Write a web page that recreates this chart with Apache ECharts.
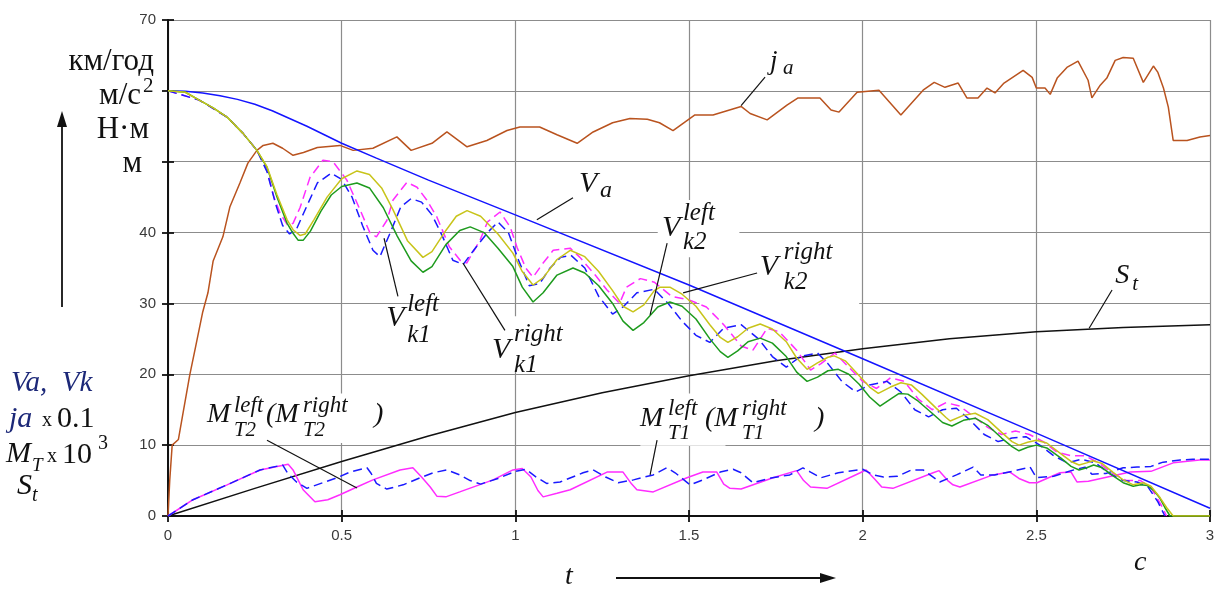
<!DOCTYPE html>
<html>
<head>
<meta charset="utf-8">
<script src="https://cdn.jsdelivr.net/npm/echarts@6.0.0/dist/echarts.min.js"></script>
<style>
html,body{margin:0;padding:0;background:#fff;}
#chart{width:1227px;height:590px;}
</style>
</head>
<body>
<div id="chart"></div>
<script>
// Axis ranges and tick labels
const xMin = 0, xMax = 3, xStep = 0.5;
const yMin = 0, yMax = 70, yStep = 10;
const yHiddenLabels = [50, 60];

// Vehicle speed V_a, km/h
const vaPts = [[0,60],[0.05,59.95],[0.1,59.7],[0.15,59.3],[0.2,58.8],[0.25,58.1],[0.3,57.2],[0.35,56.1],[0.4,55.0],[0.45,53.8],[0.5,52.6],[0.6,50.5],[0.75,47.4],[1.0,42.5],[1.5,32.6],[2.0,22.2],[2.5,11.7],[3.0,1.1]];

// Wheel speed V_k2 left (green)
const vk2LeftPts = [[0,60],[0.05,59.8],[0.09,58.7],[0.13,57.6],[0.17,56.3],[0.216,54],[0.256,51.6],[0.285,49.2],[0.314,45],[0.343,41.3],[0.36,39.9],[0.375,38.9],[0.389,38.9],[0.41,40.2],[0.44,43],[0.47,45.3],[0.5,46.5],[0.544,47],[0.58,46.3],[0.62,43.5],[0.66,39.5],[0.7,36],[0.734,34.4],[0.76,35.2],[0.8,38.3],[0.84,40.3],[0.87,40.8],[0.91,40],[0.95,37.8],[0.993,35.2],[1.02,32.3],[1.051,30.2],[1.08,31.5],[1.12,34],[1.166,35],[1.2,34.3],[1.24,32.5],[1.28,30],[1.31,27.5],[1.339,26.2],[1.37,27.3],[1.41,29.5],[1.445,30.2],[1.48,29.6],[1.52,27.8],[1.56,25],[1.59,23.2],[1.612,22.4],[1.64,23.3],[1.67,24.6],[1.705,25.1],[1.74,24.4],[1.78,22.5],[1.81,20.3],[1.84,19],[1.87,19.6],[1.9,20.5],[1.93,20.7],[1.96,20],[1.99,18.6],[2.02,16.8],[2.05,15.5],[2.08,16.5],[2.105,17.3],[2.13,17.2],[2.16,16.2],[2.2,14.5],[2.23,13.2],[2.257,12.7],[2.29,13.5],[2.324,13.8],[2.36,12.8],[2.4,11],[2.43,9.8],[2.45,9.2],[2.475,9.7],[2.5,10],[2.53,9.6],[2.57,8.2],[2.6,7],[2.623,6.5],[2.645,6.8],[2.665,7.2],[2.69,6.8],[2.72,5.7],[2.75,4.7],[2.779,4.2],[2.8,4.4],[2.82,4.3],[2.84,3.5],[2.856,2.5],[2.87,1.2],[2.885,0],[3,0]];

// Wheel speed V_k2 right (yellow)
const vk2RightPts = [[0,60],[0.05,59.8],[0.09,58.7],[0.13,57.6],[0.17,56.3],[0.216,54],[0.256,51.6],[0.285,49.3],[0.314,45.3],[0.343,41.8],[0.36,40.4],[0.38,39.6],[0.395,39.8],[0.42,41.8],[0.458,45],[0.5,47.6],[0.544,48.7],[0.58,48.2],[0.615,46.3],[0.648,43.2],[0.69,38.8],[0.734,36.5],[0.76,37.3],[0.8,40.3],[0.83,42.3],[0.861,43.1],[0.9,42.3],[0.95,39.8],[0.993,37.1],[1.02,34.5],[1.051,32.6],[1.08,33.6],[1.12,36.2],[1.158,37.5],[1.2,36.6],[1.24,34.5],[1.28,31.8],[1.31,29.6],[1.339,28.8],[1.37,29.8],[1.4,31.8],[1.417,32.3],[1.445,32.3],[1.48,31.3],[1.52,29.6],[1.56,27],[1.59,25.2],[1.612,24.5],[1.64,25.3],[1.67,26.5],[1.705,27.1],[1.74,26.4],[1.78,24.6],[1.81,22.3],[1.84,20.7],[1.87,21.6],[1.9,22.4],[1.918,22.6],[1.95,21.9],[1.99,19.8],[2.02,18.2],[2.045,17.3],[2.08,18.2],[2.11,18.8],[2.14,18.5],[2.17,17.2],[2.21,15.3],[2.24,13.9],[2.252,13.4],[2.29,14.2],[2.324,14.5],[2.36,13.6],[2.4,11.8],[2.43,10.5],[2.45,10],[2.475,10.4],[2.5,10.7],[2.53,10.3],[2.57,8.8],[2.6,7.7],[2.623,7.2],[2.645,7.5],[2.663,7.8],[2.69,7.4],[2.72,6.2],[2.75,5.1],[2.779,4.4],[2.808,4.7],[2.83,4.2],[2.856,2.6],[2.875,1.2],[2.894,0],[3,0]];

// Wheel speed V_k1 left (blue, dashed)
const vk1LeftPts = [[0,60],[0.09,58.7],[0.17,56.3],[0.216,54],[0.256,51.6],[0.285,48.6],[0.31,44],[0.33,41],[0.35,39.8],[0.37,40.5],[0.39,42.7],[0.43,47],[0.47,48.4],[0.5,47.5],[0.53,45],[0.56,41],[0.59,37.5],[0.61,36.6],[0.64,40],[0.67,43.6],[0.7,44.8],[0.73,44.3],[0.76,42.5],[0.79,39.5],[0.82,36.1],[0.85,35.5],[0.88,37.5],[0.92,40],[0.95,41.5],[0.98,40],[1.01,36],[1.04,32.5],[1.07,32.8],[1.1,35],[1.13,36.5],[1.16,36.8],[1.2,35],[1.24,31],[1.28,28.5],[1.31,29.5],[1.35,31.5],[1.4,32],[1.44,30],[1.48,27.5],[1.52,25.5],[1.56,24.5],[1.6,26.5],[1.65,27],[1.7,25],[1.74,22.5],[1.78,21],[1.82,22.5],[1.87,23],[1.9,21.5],[1.94,19],[1.98,17.5],[2.02,18.5],[2.07,19],[2.11,17.5],[2.15,15],[2.19,14],[2.23,15],[2.27,15.2],[2.31,13.5],[2.35,11.5],[2.39,10.5],[2.43,11],[2.47,11.2],[2.51,10],[2.55,8.5],[2.59,7.5],[2.63,8],[2.67,7.5],[2.71,6],[2.75,5],[2.79,4.8],[2.82,4.2],[2.85,2],[2.87,0]];

// Wheel speed V_k1 right (magenta, dashed)
const vk1RightPts = [[0,60],[0.09,58.7],[0.17,56.3],[0.216,54],[0.256,51.6],[0.285,48.8],[0.305,45],[0.323,42.7],[0.345,41],[0.36,41.3],[0.38,43.5],[0.409,47.8],[0.446,50.2],[0.475,50],[0.515,47.4],[0.553,43.2],[0.582,39.9],[0.6,39.4],[0.63,41.7],[0.648,44.6],[0.688,47.1],[0.717,46.4],[0.745,44.6],[0.774,42.2],[0.81,38],[0.841,36.1],[0.86,35.7],[0.898,38.9],[0.92,41.5],[0.956,42.9],[0.985,40.8],[1.005,37.9],[1.03,35],[1.051,33.7],[1.08,35.7],[1.109,37.5],[1.158,37.8],[1.186,36.5],[1.23,34],[1.264,31.9],[1.3,30],[1.32,32.3],[1.36,33.5],[1.4,33],[1.45,31],[1.5,30.5],[1.55,29.5],[1.6,27],[1.65,24],[1.684,23.4],[1.725,26.5],[1.76,26],[1.81,23.4],[1.85,20.6],[1.88,21.5],[1.92,23],[1.96,21],[2.0,19],[2.04,18],[2.08,19.5],[2.12,19],[2.16,16.5],[2.2,15],[2.24,16],[2.28,15.5],[2.32,14],[2.36,12.5],[2.4,11.5],[2.44,12],[2.48,11.5],[2.52,10.5],[2.56,9],[2.6,8.5],[2.64,8.5],[2.68,7.5],[2.72,6],[2.76,5],[2.8,5],[2.83,4],[2.86,1.5],[2.875,0]];

// Vehicle deceleration j_a x 0.1
const jaPts = [[0,0],[0.005,5],[0.012,10],[0.03,10.8],[0.045,15],[0.063,20],[0.08,24],[0.1,28.8],[0.115,31.5],[0.13,36],[0.158,39.4],[0.178,43.6],[0.207,47],[0.23,49.8],[0.256,51.6],[0.274,52.3],[0.302,52.6],[0.33,51.9],[0.36,50.9],[0.39,51.3],[0.43,52.0],[0.495,52.3],[0.533,51.6],[0.59,51.9],[0.659,53.5],[0.7,51.6],[0.76,52.6],[0.803,54.2],[0.861,52.1],[0.918,53],[0.976,54.4],[1.013,54.9],[1.07,54.9],[1.12,53.8],[1.178,52.6],[1.224,54.2],[1.28,55.5],[1.33,56.1],[1.38,56],[1.415,55.5],[1.454,54.4],[1.497,55.9],[1.517,56.6],[1.569,56.6],[1.65,57.8],[1.676,56.8],[1.725,55.9],[1.782,58],[1.814,59],[1.877,59],[1.909,57.3],[1.932,57],[1.984,59.8],[2.047,60.1],[2.11,56.6],[2.174,60.1],[2.206,61.2],[2.237,60.5],[2.275,61.1],[2.3,59],[2.332,59],[2.358,60.4],[2.381,59.7],[2.407,61.1],[2.462,62.9],[2.488,61.9],[2.5,60.4],[2.525,60.4],[2.54,59.5],[2.56,61.8],[2.588,63.3],[2.62,64.2],[2.649,61.5],[2.66,59],[2.684,60.8],[2.703,61.8],[2.727,64.3],[2.75,64.7],[2.779,64.6],[2.808,61.2],[2.837,63.5],[2.85,62.6],[2.866,60.4],[2.88,57.7],[2.894,53],[2.934,53],[2.971,53.5],[3.0,53.7]];

// Braking distance S_t, m
const stPts = [[0,0],[0.25,3.9],[0.5,7.7],[0.75,11.3],[1,14.6],[1.25,17.4],[1.5,19.8],[1.75,21.9],[2,23.6],[2.25,25],[2.5,26],[2.75,26.6],[3,27.0]];

// Braking torque M_T2 x 10^3 (magenta)
const mt2Pts = [[0,0],[0.072,2.3],[0.17,4.4],[0.265,6.5],[0.346,7.3],[0.36,6.5],[0.389,3.7],[0.423,2.0],[0.46,2.3],[0.495,3.0],[0.544,4.1],[0.59,5.1],[0.668,6.5],[0.705,6.8],[0.73,5.5],[0.755,4.1],[0.774,2.8],[0.8,2.7],[0.84,3.4],[0.936,5.1],[0.993,6.5],[1.02,6.7],[1.045,5.5],[1.065,3.6],[1.08,2.7],[1.12,3.2],[1.158,3.7],[1.264,6.2],[1.31,6.2],[1.335,4.5],[1.35,3.7],[1.397,3.4],[1.494,5.4],[1.54,6.2],[1.58,6.2],[1.6,4.5],[1.618,3.9],[1.65,3.8],[1.742,5.4],[1.81,6.4],[1.83,5],[1.85,4.1],[1.897,3.9],[1.993,6.1],[2.01,6.5],[2.035,5.2],[2.055,4.1],[2.087,3.9],[2.203,6.1],[2.22,6.4],[2.245,5.0],[2.26,4.4],[2.28,4.1],[2.375,5.8],[2.424,6.2],[2.45,5.3],[2.48,4.7],[2.502,4.7],[2.568,6.1],[2.6,6.2],[2.617,4.8],[2.65,4.9],[2.77,6.2],[2.83,6.3],[2.894,7.5],[2.97,7.9],[3,7.9]];

// Braking torque M_T1 x 10^3 (blue, dashed)
const mt1Pts = [[0,0],[0.072,2.3],[0.17,4.4],[0.265,6.5],[0.33,7.2],[0.345,6],[0.37,4.8],[0.4,3.9],[0.446,4.7],[0.487,5.4],[0.524,6.2],[0.573,6.8],[0.585,6],[0.6,4.6],[0.63,3.8],[0.677,4.4],[0.726,5.4],[0.763,6.1],[0.803,6.5],[0.84,5.8],[0.87,5.0],[0.9,4.5],[0.95,5.3],[1.0,6.3],[1.03,6.6],[1.06,5.5],[1.09,4.6],[1.129,4.8],[1.195,6.1],[1.224,6.5],[1.26,5.5],[1.296,4.7],[1.34,5.1],[1.397,5.8],[1.436,6.8],[1.46,6.1],[1.503,4.4],[1.54,5.1],[1.59,6.2],[1.627,6.6],[1.65,6.1],[1.684,4.7],[1.74,5.4],[1.79,5.8],[1.828,6.8],[1.85,6.2],[1.88,5.4],[1.93,6.1],[2.0,6.6],[2.03,5.8],[2.06,5.5],[2.1,5.6],[2.14,6.5],[2.174,6.5],[2.2,5.6],[2.222,4.8],[2.27,5.8],[2.318,6.9],[2.34,5.8],[2.38,5.8],[2.43,6.3],[2.482,6.9],[2.5,5.4],[2.55,5.6],[2.6,6.4],[2.64,6.9],[2.66,5.9],[2.7,6.0],[2.75,6.8],[2.79,6.9],[2.83,7.0],[2.865,7.6],[2.914,7.9],[2.95,8.0],[3,8.0]];

const SERIF = '"Liberation Serif", "DejaVu Serif", serif';
const NARROW = '"Liberation Sans Narrow", "Liberation Sans", Arial, sans-serif';

function line(name, data, color, dashed, z) {
  return {
    name: name, type: 'line', data: data, showSymbol: false, symbol: 'none',
    animation: false, z: z || 3,
    lineStyle: { color: color, width: 1.5, type: dashed ? [9, 5] : 'solid' }
  };
}

const chart = echarts.init(document.getElementById('chart'), null, { renderer: 'canvas' });

const frameAxis = {
  axisLine: { show: true, lineStyle: { color: '#111', width: 1.8 } },
  axisTick: { show: true, inside: true, length: 6, lineStyle: { color: '#111', width: 1.8 } }
};
const gridLine = { show: true, lineStyle: { color: '#8c8c8c', width: 1.2 } };

chart.setOption({
  animation: false,
  backgroundColor: '#fff',
  grid: { left: 168, right: 17, top: 20, bottom: 74, containLabel: false },
  xAxis: [
    Object.assign({
      type: 'value', min: xMin, max: xMax, interval: xStep, position: 'bottom',
      axisLabel: { color: '#3a3a3a', fontFamily: NARROW, fontSize: 15, margin: 12 },
      splitLine: gridLine
    }, frameAxis),
    Object.assign({
      type: 'value', min: xMin, max: xMax, interval: xStep, position: 'top',
      axisLabel: { show: false }, splitLine: { show: false }
    }, frameAxis)
  ],
  yAxis: [
    Object.assign({
      type: 'value', min: yMin, max: yMax, interval: yStep, position: 'left',
      axisLabel: {
        color: '#3a3a3a', fontFamily: NARROW, fontSize: 15, margin: 12,
        formatter: v => yHiddenLabels.indexOf(v) >= 0 ? '' : String(v)
      },
      splitLine: gridLine
    }, frameAxis),
    Object.assign({
      type: 'value', min: yMin, max: yMax, interval: yStep, position: 'right',
      axisLabel: { show: false }, splitLine: { show: false }
    }, frameAxis)
  ],
  series: [
    line('St', stPts, '#111111', false, 3),
    line('ja', jaPts, '#b9531f', false, 3),
    line('Va', vaPts, '#1414ff', false, 4),
    line('MT2', mt2Pts, '#ff2cff', false, 3),
    line('MT1', mt1Pts, '#1a1aff', true, 4),
    line('Vk1right', vk1RightPts, '#ff2cff', true, 3),
    line('Vk1left', vk1LeftPts, '#1a1aff', true, 4),
    line('Vk2left', vk2LeftPts, '#1e9b1e', false, 5),
    line('Vk2right', vk2RightPts, '#c8c41a', false, 5)
  ]
});

// ---- annotations ----
function px(p) { return chart.convertToPixel({ gridIndex: 0 }, p); }

function txt(x, y, s, size, italic, color, align) {
  return {
    type: 'text', z: 10, silent: true,
    style: {
      x: x, y: y, text: s, fill: color || '#111',
      font: (italic ? 'italic ' : '') + size + 'px ' + SERIF,
      align: align || 'left', verticalAlign: 'middle'
    }
  };
}

// parts: [text, dx, dy, size]
function label(anchor, parts) {
  const a = px(anchor);
  return parts.map(p => txt(a[0] + p[1], a[1] + p[2], p[0], p[3], true, '#111'));
}

function leader(p0, p1) {
  const a = px(p0), b = px(p1);
  return { type: 'line', z: 9, silent: true,
    shape: { x1: a[0], y1: a[1], x2: b[0], y2: b[1] },
    style: { stroke: '#111', lineWidth: 1.2 } };
}

function whiteBox(p0, p1) {
  const a = px(p0), b = px(p1);
  return { type: 'rect', z: 1, silent: true,
    shape: { x: Math.min(a[0], b[0]), y: Math.min(a[1], b[1]),
             width: Math.abs(b[0] - a[0]), height: Math.abs(b[1] - a[1]) },
    style: { fill: '#fff' } };
}

function arrow(x1, y1, x2, y2) {
  const ang = Math.atan2(y2 - y1, x2 - x1), L = 16, W = 5;
  const bx = x2 - L * Math.cos(ang), by = y2 - L * Math.sin(ang);
  const nx = -Math.sin(ang) * W, ny = Math.cos(ang) * W;
  return [
    { type: 'line', silent: true, shape: { x1: x1, y1: y1, x2: bx, y2: by }, style: { stroke: '#111', lineWidth: 1.8 } },
    { type: 'polygon', silent: true, shape: { points: [[x2, y2], [bx + nx, by + ny], [bx - nx, by - ny]] }, style: { fill: '#111' } }
  ];
}

const g = [];
// white boxes behind label text (grid lines are hidden there)
g.push(whiteBox([1.41, 44.6], [1.645, 36.5]));
g.push(whiteBox([1.53, 39.5], [1.99, 29.8]));
g.push(whiteBox([0.93, 28.2], [1.22, 20.6]));
g.push(whiteBox([0.1, 17.3], [0.66, 10.3]));
g.push(whiteBox([1.36, 17.3], [1.605, 9.9]));

// V_a
g.push(...label([1.183, 46.85], [['V', 0, 0, 30], ['a', 21, 7, 24]]));
g.push(leader([1.062, 41.8], [1.166, 44.9]));
// V_k1 left
g.push(...label([0.628, 27.9], [['V', 0, 0, 30], ['left', 21, -14, 25], ['k1', 21, 17, 25]]));
g.push(leader([0.662, 31.0], [0.622, 39.2]));
// V_k1 right
g.push(...label([0.933, 23.4], [['V', 0, 0, 30], ['right', 22, -16, 25], ['k1', 22, 15, 25]]));
g.push(leader([0.97, 26.2], [0.849, 35.7]));
// V_k2 left
g.push(...label([1.422, 40.6], [['V', 0, 0, 30], ['left', 21, -15, 25], ['k2', 21, 14, 25]]));
g.push(leader([1.437, 38.5], [1.388, 28.4]));
// V_k2 right
g.push(...label([1.704, 35.1], [['V', 0, 0, 30], ['right', 24, -15, 25], ['k2', 24, 15, 25]]));
g.push(leader([1.696, 34.3], [1.483, 31.5]));
// S_t
g.push(...label([2.727, 33.9], [['S', 0, 0, 28], ['t', 17, 9, 21]]));
g.push(leader([2.718, 31.9], [2.652, 26.5]));
// j_a
g.push(...label([1.733, 64.1], [['j', 0, 0, 27], ['a', 13, 7, 21]]));
g.push(leader([1.719, 61.95], [1.65, 57.9]));
// M_T2 left (M_T2 right)
g.push(...label([0.112, 14.25], [['M', 0, 0, 28], ['left', 27, -9, 23], ['T2', 27, 15, 21],
  ['(M', 59, 0, 28], ['right', 96, -9, 23], ['T2', 96, 15, 21], [')', 167, 0, 28]]));
g.push(leader([0.285, 10.7], [0.544, 3.95]));
// M_T1 left (M_T1 right)
g.push(...label([1.359, 13.8], [['M', 0, 0, 28], ['left', 28, -9, 23], ['T1', 28, 15, 21],
  ['(M', 65, 0, 28], ['right', 102, -9, 23], ['T1', 102, 15, 21], [')', 175, 0, 28]]));
g.push(leader([1.408, 10.7], [1.388, 5.8]));

// units at the top of the value axis
g.push(txt(154, 62, 'км/год', 31, false, '#111', 'right'));
g.push(txt(141, 96, 'м/с', 31, false, '#111', 'right'));
g.push(txt(143, 86, '2', 21, false, '#111', 'left'));
g.push(txt(149, 130, 'Н·м', 31, false, '#111', 'right'));
g.push(txt(142, 164, 'м', 31, false, '#111', 'right'));
// quantity legend on the left
const NAVY = '#1c2878';
g.push(txt(11, 383, 'Va,  Vk', 29, true, NAVY));
g.push(txt(9, 419, 'ja', 30, true, NAVY));
g.push(txt(42, 421, 'x', 20, false, '#111'));
g.push(txt(57, 419, '0.1', 30, false, '#111'));
g.push(txt(6, 454, 'M', 30, true, '#111'));
g.push(txt(32, 466, 'T', 19, true, '#111'));
g.push(txt(47, 457, 'x', 20, false, '#111'));
g.push(txt(62, 455, '10', 30, false, '#111'));
g.push(txt(98, 444, '3', 20, false, '#111'));
g.push(txt(17, 486, 'S', 30, true, '#111'));
g.push(txt(32, 496, 't', 20, true, '#111'));
// direction arrows and time axis name
g.push(...arrow(62, 307, 62, 111));
g.push(...arrow(616, 578, 836, 578));
g.push(txt(565, 577, 't', 28, true, '#111'));
g.push(txt(1134, 563, 'c', 28, true, '#111'));

chart.setOption({ graphic: g });
</script>
</body>
</html>
